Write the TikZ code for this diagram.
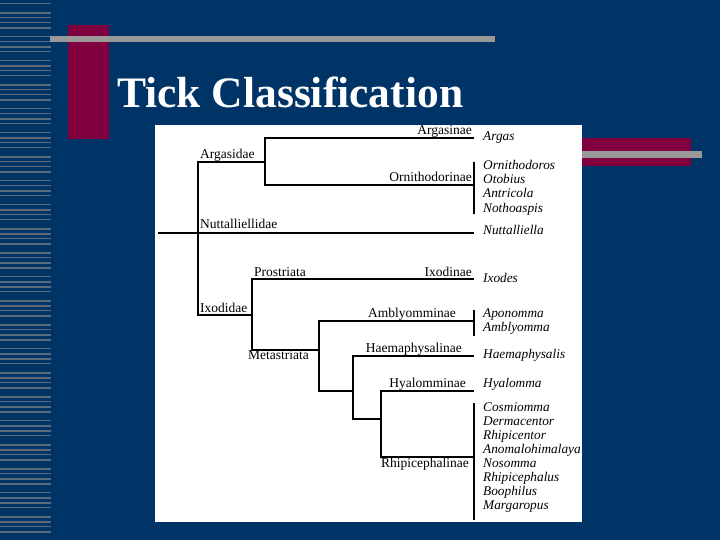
\documentclass[tikz,border=0pt]{standalone}
\usepackage{fontspec}
\setmainfont{Liberation Serif}
\definecolor{bgblue}{RGB}{0,51,102}
\definecolor{maroonred}{RGB}{128,0,64}
\definecolor{bargray}{RGB}{153,153,153}
\definecolor{stripgray}{RGB}{92,106,124}
\begin{document}
\begin{tikzpicture}[x=1pt,y=-1pt,
  branch/.style={line width=2.4pt,line join=miter,draw=black},
  genbar/.style={line width=2.6pt,draw=black},
  grp/.style={inner sep=0pt,font=\fontsize{13.5}{15}\selectfont},
  genus/.style={inner sep=0pt,anchor=base west,font=\fontsize{13.3}{14}\selectfont\itshape}]
\useasboundingbox (0,0) rectangle (720,540);
% background
\fill[bgblue] (0,0) rectangle (720,540);
% left striped band
\foreach \i in {0,...,88} {
  \pgfmathsetmacro\yy{3+6*\i+mod(\i*7,4)}
  \pgfmathsetmacro\ww{0.8+0.7*mod(\i*5,3)}
  \fill[stripgray] (0,\yy) rectangle (51,\yy+\ww);
}
% decorations
\fill[maroonred] (68,25) rectangle (109,139);
\fill[bargray] (50,36) rectangle (495,42);
\fill[maroonred] (582,138) rectangle (691,166);
\fill[bargray] (582,151) rectangle (702,158);
% title
\node[anchor=base west,inner sep=0pt,text=white,font=\fontsize{43.5}{50}\selectfont\bfseries] (title) at (117,108) {Tick Classification};
% panel
\fill[white] (155,125) rectangle (582,522);
% tree coordinates
\coordinate (rA) at (198,162); \coordinate (rI) at (198,315);
\coordinate (nA) at (265,162); \coordinate (nAt) at (265,138); \coordinate (nAb) at (265,185);
\coordinate (eArgas) at (474,138); \coordinate (eOrn) at (474,185);
\coordinate (nutL) at (158,233); \coordinate (eNut) at (474,233);
\coordinate (nP) at (252,315); \coordinate (nPt) at (252,279); \coordinate (nPb) at (252,350);
\coordinate (eIxo) at (474,279);
\coordinate (nM) at (319,350); \coordinate (nMt) at (319,321); \coordinate (nMb) at (319,391);
\coordinate (eAmb) at (474,321);
\coordinate (nH) at (353,391); \coordinate (nHt) at (353,356); \coordinate (nHb) at (353,419);
\coordinate (eHae) at (474,356);
\coordinate (nR) at (381,419); \coordinate (nRt) at (381,391); \coordinate (nRb) at (381,457);
\coordinate (eHya) at (474,391); \coordinate (eRhi) at (474,457);
\coordinate (b1t) at (474,162); \coordinate (b1b) at (474,214);
\coordinate (b2t) at (474,310); \coordinate (b2b) at (474,336);
\coordinate (b3t) at (474,403); \coordinate (b3b) at (474,520);
% branches
\draw[branch] (nA) -- (rA) -- (rI) -- (nP);
\draw[branch] (eArgas) -- (nAt) -- (nAb) -- (eOrn);
\draw[line width=2pt] (nutL) -- (eNut);
\draw[branch] (eIxo) -- (nPt) -- (nPb) -- (nM);
\draw[branch] (eAmb) -- (nMt) -- (nMb) -- (nH);
\draw[branch] (eHae) -- (nHt) -- (nHb) -- (nR);
\draw[branch] (eHya) -- (nRt) -- (nRb) -- (eRhi);
\draw[genbar] (b1t) -- (b1b);
\draw[genbar] (b2t) -- (b2b);
\draw[genbar] (b3t) -- (b3b);
% group labels
\node[grp,anchor=base west] (lArgasidae) at (200,159) {Argasidae};
\node[grp,anchor=base west] (lNutt) at (200,229) {Nuttalliellidae};
\node[grp,anchor=base west] (lProst) at (254,276) {Prostriata};
\node[grp,anchor=base west] (lIxodidae) at (200,312) {Ixodidae};
\node[grp,anchor=base west] (lMeta) at (248,359) {Metastriata};
\node[grp,anchor=base east] (lArgasinae) at (472,135) {Argasinae};
\node[grp,anchor=base east] (lOrn) at (472,182) {Ornithodorinae};
\node[grp,anchor=base east] (lIxodinae) at (472,276) {Ixodinae};
\node[grp,anchor=base east] (lAmb) at (456,317) {Amblyomminae};
\node[grp,anchor=base east] (lHae) at (462,352) {Haemaphysalinae};
\node[grp,anchor=base east] (lHya) at (466,387) {Hyalomminae};
\node[grp,anchor=base east] (lRhi) at (469,467) {Rhipicephalinae};
% genera
\node[genus] (g1) at (483,141) {Argas};
\node[genus] (g2) at (483,170) {Ornithodoros};
\node[genus] (g3) at (483,184) {Otobius};
\node[genus] (g4) at (483,198) {Antricola};
\node[genus] (g5) at (483,212) {Nothoaspis};
\node[genus] (g6) at (483,234) {Nuttalliella};
\node[genus] (g7) at (483,282) {Ixodes};
\node[genus] (g8) at (483,317) {Aponomma};
\node[genus] (g9) at (483,331) {Amblyomma};
\node[genus] (g10) at (483,358) {Haemaphysalis};
\node[genus] (g11) at (483,387) {Hyalomma};
\node[genus] (g12) at (483,411) {Cosmiomma};
\node[genus] (g13) at (483,425) {Dermacentor};
\node[genus] (g14) at (483,439) {Rhipicentor};
\node[genus] (g15) at (483,453) {Anomalohimalaya};
\node[genus] (g16) at (483,467) {Nosomma};
\node[genus] (g17) at (483,481.5) {Rhipicephalus};
\node[genus] (g18) at (483,495.5) {Boophilus};
\node[genus] (g19) at (483,509.5) {Margaropus};
\end{tikzpicture}
\end{document}
